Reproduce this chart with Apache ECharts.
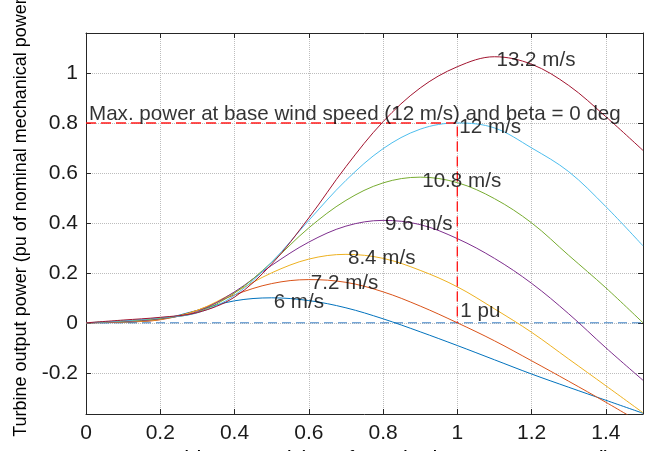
<!DOCTYPE html>
<html>
<head>
<meta charset="utf-8">
<script src="https://cdn.jsdelivr.net/npm/echarts@6/dist/echarts.min.js"></script>
<style>
  html, body { margin: 0; padding: 0; background: #fff; }
  #main { width: 652px; height: 451px; }
</style>
</head>
<body>
<div id="main"></div>
<script>
// turbine speed (pu), sampled every 0.1
const speedPu = [0, 0.1, 0.2, 0.3, 0.4, 0.5, 0.6, 0.7, 0.8, 0.9, 1.0, 1.1, 1.2, 1.3, 1.4, 1.5]

// output power (pu) per wind speed
const p6 = [0, 0.002, 0.014, 0.05, 0.088, 0.100, 0.089, 0.06, 0.016, -0.036, -0.091, -0.148, -0.205, -0.258, -0.31, -0.362]
const p72 = [0, 0.003, 0.012, 0.05, 0.112, 0.157, 0.173, 0.162, 0.124, 0.067, 0.0, -0.072, -0.152, -0.234, -0.318, -0.405]
const p84 = [0, 0.004, 0.014, 0.05, 0.122, 0.2, 0.255, 0.274, 0.258, 0.21, 0.144, 0.056, -0.038, -0.145, -0.252, -0.36]
const p96 = [0, 0.005, 0.016, 0.045, 0.124, 0.23, 0.323, 0.387, 0.41, 0.393, 0.337, 0.258, 0.158, 0.036, -0.1, -0.23]
const p108 = [0, 0.007, 0.018, 0.042, 0.119, 0.242, 0.38, 0.49, 0.56, 0.583, 0.561, 0.497, 0.4, 0.27, 0.14, 0.0]
const p12 = [0, 0.008, 0.02, 0.04, 0.11, 0.243, 0.41, 0.57, 0.697, 0.775, 0.8, 0.78, 0.7, 0.605, 0.465, 0.308]
const p132 = [0, 0.011, 0.022, 0.041, 0.103, 0.235, 0.42, 0.625, 0.805, 0.94, 1.025, 1.065, 1.035, 0.95, 0.825, 0.69]

const windLabels = ['6 m/s', '7.2 m/s', '8.4 m/s', '9.6 m/s', '10.8 m/s', '12 m/s', '13.2 m/s']
const colors = ['#0072BD', '#D95319', '#EDB120', '#7E2F8E', '#77AC30', '#4DBEEE', '#A2142F']

// where each wind speed label sits (at the curve peaks)
const labelX = [0.5, 0.6, 0.7, 0.8, 0.9, 1.0, 1.1]
const labelY = [0.1, 0.173, 0.274, 0.41, 0.583, 0.8, 1.065]

// reference lines
const baseX = [0, 1, 1]
const baseY = [0.8, 0.8, 0]
const zeroX = [0, 1.5]
const zeroY = [0, 0]

const notes = ['Max. power at base wind speed (12 m/s) and beta = 0 deg', '1 pu']
const notesX = [0, 1.0]
const notesY = [0.836, 0.045]

const yTicks = [-0.2, 0, 0.2, 0.4, 0.6, 0.8, 1]

const font = 'Liberation Sans, Arial, Helvetica, sans-serif'
const curves = [p6, p72, p84, p96, p108, p12, p132]

const chart = echarts.init(document.getElementById('main'))

const gridLine = {show: true, lineStyle: {color: '#bdbdbd', type: 'dotted', width: 1}}
const frameLine = {show: true, onZero: false, lineStyle: {color: '#262626', width: 1}}
const tickStyle = {show: true, inside: true, length: 5, lineStyle: {color: '#262626'}}

const series = curves.map((ys, i) => ({
  name: windLabels[i],
  type: 'line',
  data: speedPu.map((x, j) => [x, ys[j]]),
  smooth: 0.35,
  showSymbol: false,
  lineStyle: {color: colors[i], width: 1},
  z: 3
}))

series.push({
  type: 'line',
  data: zeroX.map((x, i) => [x, zeroY[i]]),
  showSymbol: false,
  lineStyle: {color: '#3b7fc4', width: 1, type: [9, 5]},
  z: 2
})

series.push({
  type: 'line',
  data: baseX.map((x, i) => [x, baseY[i]]),
  showSymbol: false,
  lineStyle: {color: '#ff1a1a', width: 1.4, type: [10, 5]},
  z: 4
})

series.push({
  type: 'scatter',
  symbolSize: 0,
  data: labelX.map((x, i) => ({value: [x, labelY[i]], name: windLabels[i]})),
  label: {
    show: true,
    position: 'right',
    distance: 2,
    offset: [0, 4],
    formatter: (p) => p.name,
    color: '#000',
    fontSize: 20.6,
    fontFamily: font
  },
  z: 5
})

series.push({
  type: 'scatter',
  symbolSize: 0,
  data: notesX.map((x, i) => ({value: [x, notesY[i]], name: notes[i]})),
  label: {
    show: true,
    position: 'right',
    distance: 3,
    formatter: (p) => p.name,
    color: '#000',
    fontSize: 20.6,
    fontFamily: font
  },
  z: 5
})

const option = {
  animation: false,
  backgroundColor: '#fff',
  grid: {left: 86, right: 9, top: 33, bottom: 37, outerBoundsMode: 'none', containLabel: false},
  xAxis: [{
    type: 'value',
    min: 0,
    max: 1.5,
    interval: 0.2,
    name: 'Turbine speed (pu of nominal generator speed)',
    nameLocation: 'middle',
    nameGap: 25,
    nameTextStyle: {fontSize: 22, color: '#000', fontFamily: font, padding: [0, 0, 0, 34]},
    axisLine: frameLine,
    axisTick: tickStyle,
    axisLabel: {show: true, fontSize: 21, color: '#1a1a1a', fontFamily: font, margin: 9, showMaxLabel: false},
    splitLine: gridLine
  }, {
    type: 'value',
    position: 'top',
    min: 0,
    max: 1.5,
    interval: 0.2,
    axisLine: frameLine,
    axisTick: tickStyle,
    axisLabel: {show: false},
    splitLine: {show: false}
  }],
  yAxis: [{
    type: 'value',
    min: -0.365,
    max: 1.16,
    name: 'Turbine output power (pu of nominal mechanical power)',
    nameLocation: 'middle',
    nameGap: 56,
    nameTextStyle: {fontSize: 18, color: '#000', fontFamily: font, padding: [0, 0, 0, 18]},
    axisLine: frameLine,
    axisTick: Object.assign({customValues: yTicks}, tickStyle),
    axisLabel: {show: true, fontSize: 21, color: '#1a1a1a', fontFamily: font, margin: 8, customValues: yTicks},
    splitLine: gridLine
  }, {
    type: 'value',
    position: 'right',
    min: -0.365,
    max: 1.16,
    axisLine: frameLine,
    axisTick: Object.assign({customValues: yTicks}, tickStyle),
    axisLabel: {show: false, customValues: yTicks},
    splitLine: {show: false}
  }],
  series
}

chart.setOption(option)
</script>
</body>
</html>
